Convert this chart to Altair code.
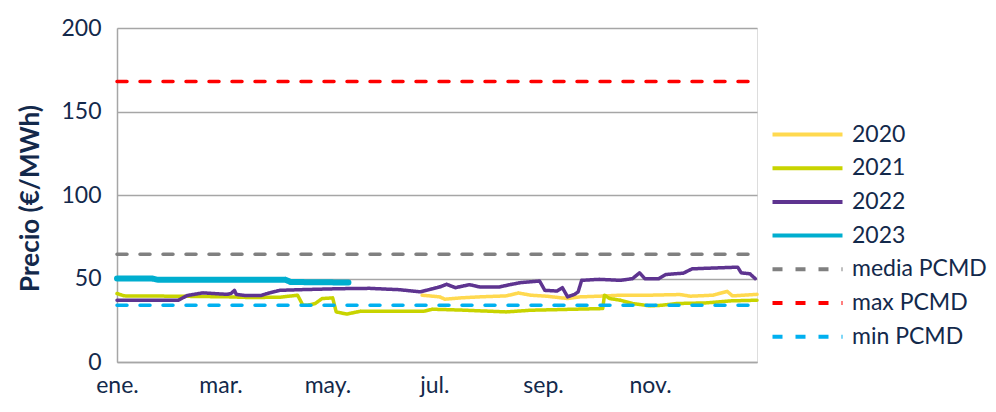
import altair as alt
import pandas as pd

# ---------------- data ----------------
series_names = ["2020", "2021", "2022", "2023", "media PCMD", "max PCMD", "min PCMD"]
series_colors = ["#FFD94F", "#C8D400", "#5E3490", "#00AECF", "#808080", "#FF0000", "#00B0F0"]
series_widths = [3.5, 3.5, 3.5, 6, 3.5, 3.5, 3.5]

month_labels = ["ene.", "feb.", "mar.", "abr.", "may.", "jun.",
                "jul.", "ago.", "sep.", "oct.", "nov.", "dic."]
tick_days = [0, 59, 120, 181, 243, 304]
tick_months = [0, 2, 4, 6, 8, 10]
y_ticks = [0, 50, 100, 150, 200]

days_2020 = [174, 184, 187, 196, 207, 222, 229, 236, 245, 257, 264, 275, 287, 304, 321, 327, 340, 348, 351, 365]
vals_2020 = [40, 39, 37.6, 38.4, 39, 39.6, 41.3, 40, 39.4, 38, 39, 39.4, 40, 40, 40.4, 39.4, 40, 42.3, 39.6, 40.5]

days_2021 = [0, 4, 34, 64, 76, 93, 103, 106, 109, 113, 117, 123, 125, 131, 139, 175, 180, 196, 222, 236, 277, 278, 281, 287, 294, 304, 311, 319, 336, 350, 365]
vals_2021 = [41, 39.6, 39.4, 39, 38.6, 38.8, 40, 34, 34, 35, 38, 38.4, 30, 28.7, 30.4, 30.4, 31.6, 31.1, 30, 31, 32, 40, 38, 37, 35, 33.6, 34, 35, 35.4, 36.6, 37]

days_2022 = [0, 35, 40, 49, 63, 65, 67, 68, 73, 82, 87, 93, 104, 127, 144, 161, 173, 184, 188, 193, 201, 207, 218, 224, 230, 241, 244, 251, 254, 257, 261, 263, 265, 275, 287, 294, 298, 301, 309, 313, 323, 328, 354, 356, 361, 364]
vals_2022 = [37, 37, 39.8, 41.4, 40.5, 41, 42.9, 40.5, 39.8, 39.8, 41.4, 42.9, 43.3, 43.9, 44.1, 43.3, 42, 44.9, 46.5, 44.5, 46.3, 44.9, 44.9, 46.3, 47.5, 48.5, 42.9, 42.5, 44.5, 39, 40.5, 42, 48.9, 49.5, 48.9, 49.9, 53.4, 49.9, 49.9, 52.4, 53.2, 55.8, 56.8, 53.4, 52.8, 49.9]

days_2023 = [0, 20, 23, 60, 96, 99, 132]
vals_2023 = [50, 50, 49.3, 49.3, 49.3, 47.9, 47.6]

pcmd_names = ["media PCMD", "max PCMD", "min PCMD"]
pcmd_vals = [64.5, 168, 34]
year_span = [0, 365]

# ---------------- table ----------------
width_of = dict(zip(series_names, series_widths))
rows = []
for name, dd, vv in [("2020", days_2020, vals_2020), ("2021", days_2021, vals_2021),
                     ("2022", days_2022, vals_2022), ("2023", days_2023, vals_2023)]:
    for d, v in zip(dd, vv):
        rows.append({"serie": name, "day": d, "value": v, "sw": width_of[name]})
df_years = pd.DataFrame(rows)

rows = []
for name, v in zip(pcmd_names, pcmd_vals):
    for d in year_span:
        rows.append({"serie": name, "day": d, "value": v, "sw": width_of[name]})
df_pcmd = pd.DataFrame(rows)

FONT = "Lato"
TXT = "#13294B"
GRID = "#A6A6A6"

labels_js = "[" + ",".join("'%s'" % m for m in month_labels) + "]"
days_js = "[" + ",".join(str(d) for d in tick_days) + "]"
months_js = "[" + ",".join(str(m) for m in tick_months) + "]"
label_expr = labels_js + "[" + months_js + "[indexof(" + days_js + ", datum.value)]]"

x_enc = alt.X("day:Q",
              scale=alt.Scale(domain=[0, 365], nice=False, zero=False),
              axis=alt.Axis(values=tick_days, title=None, grid=False, ticks=False,
                            labelExpr=label_expr,
                            labelFont=FONT, labelFontSize=23, labelColor=TXT,
                            labelPadding=12, domainColor=GRID, domainWidth=1.5,
                            labelFlush=False, labelOverlap=False))
y_enc = alt.Y("value:Q",
              scale=alt.Scale(domain=[0, 200], nice=False),
              axis=alt.Axis(values=y_ticks, title="Precio (€/MWh)", grid=True,
                            gridColor=GRID, gridWidth=1.5, ticks=False,
                            domainColor=GRID, domainWidth=1.5,
                            labelFont=FONT, labelFontSize=23, labelColor=TXT, labelPadding=16,
                            titleFont=FONT, titleFontSize=26, titleFontWeight="bold",
                            titleColor=TXT, titleX=-87, titleY=170, titleAngle=-90,
                            titleAlign="center", titleBaseline="middle"))

dash_range = [[1, 0], [1, 0], [1, 0], [1, 0], [10, 13], [10, 13], [10, 13]]

legend = alt.Legend(title=None, orient="none", legendX=679, legendY=95,
                    symbolType="M-5,0H5", symbolSize=196, symbolStrokeWidth=4, padding=0,
                    labelFont=FONT, labelFontSize=23, labelColor=TXT,
                    labelOffset=33, rowPadding=9.7, labelLimit=300)

color_enc = alt.Color("serie:N", scale=alt.Scale(domain=series_names, range=series_colors), legend=legend)
dash_enc = alt.StrokeDash("serie:N", scale=alt.Scale(domain=series_names, range=dash_range), legend=legend)
sw_enc = alt.StrokeWidth("sw:Q", scale=None, legend=None)

years = alt.Chart(df_years).mark_line(strokeCap="round", strokeJoin="round").encode(
    x=x_enc, y=y_enc, color=color_enc, strokeDash=dash_enc, strokeWidth=sw_enc,
    detail="serie:N")
pcmd = alt.Chart(df_pcmd).mark_line(strokeCap="round").encode(
    x=x_enc, y=y_enc, color=color_enc, strokeDash=dash_enc, strokeWidth=sw_enc,
    detail="serie:N")

chart = alt.layer(years, pcmd).properties(
    width=640, height=334,
    padding={"left": 109, "top": 20, "right": 231, "bottom": 42},
    autosize=alt.AutoSizeParams(type="none"),
).configure_view(stroke=None).configure(background="white")

chart.save("out.html", embed_options={"renderer": "svg", "actions": False})
